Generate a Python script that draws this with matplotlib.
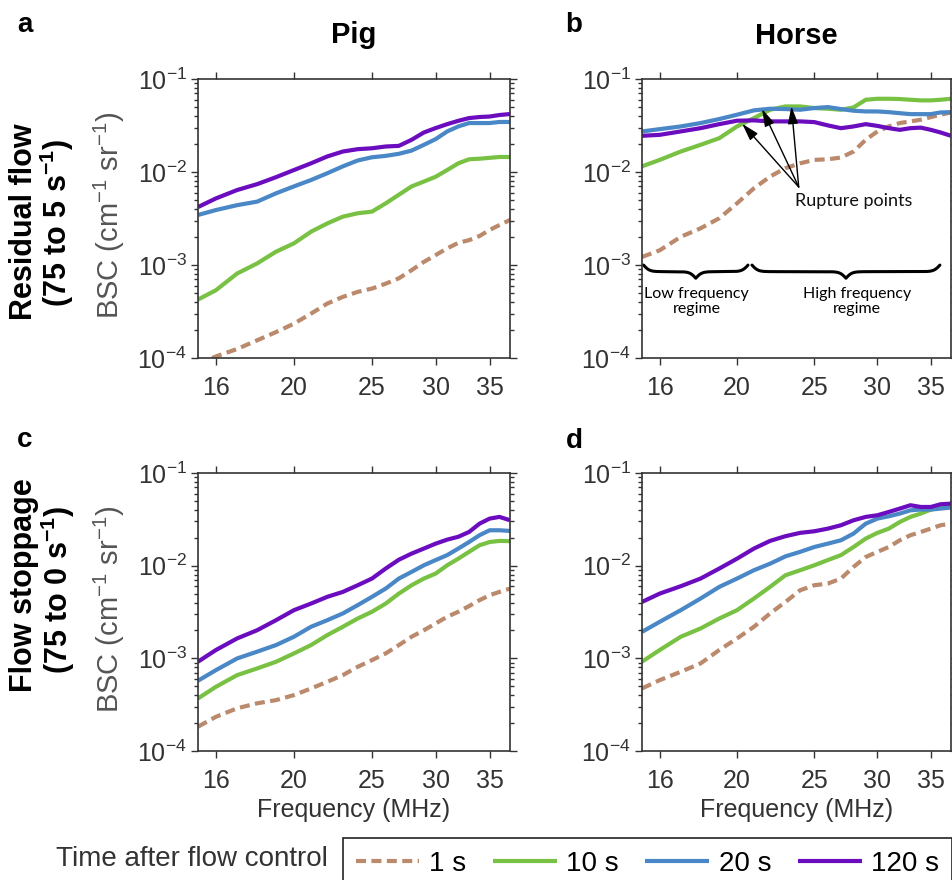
import numpy as np
import matplotlib
matplotlib.use("Agg")
import matplotlib.pyplot as plt
from matplotlib.ticker import NullLocator, NullFormatter, LogLocator

plt.rcParams['font.family'] = ['Liberation Sans', 'DejaVu Sans']
plt.rcParams['mathtext.fontset'] = 'custom'
plt.rcParams['mathtext.rm'] = 'Liberation Sans'
plt.rcParams['mathtext.it'] = 'Liberation Sans:italic'
plt.rcParams['mathtext.bf'] = 'Liberation Sans:bold'

# frequency grid (MHz)
freq = [15.2, 16, 17, 18, 19, 20, 21, 22, 23, 24, 25, 26, 27, 28, 29, 30,
        31, 32, 33, 34, 35, 36, 37.1]
labels = ['1 s', '10 s', '20 s', '120 s']

# a: pig, residual flow
pig_res_1s = [8.6e-5, 1.04e-4, 1.25e-4, 1.55e-4, 1.9e-4, 2.34e-4, 3.0e-4, 3.85e-4, 4.54e-4,
              5.14e-4, 5.58e-4, 6.3e-4, 7.2e-4, 8.8e-4, 1.08e-3, 1.28e-3, 1.51e-3, 1.73e-3,
              1.85e-3, 2.05e-3, 2.38e-3, 2.69e-3, 3.05e-3]
pig_res_10s = [4.25e-4, 5.36e-4, 8.1e-4, 1.04e-3, 1.39e-3, 1.71e-3, 2.28e-3, 2.8e-3, 3.31e-3,
               3.6e-3, 3.75e-3, 4.6e-3, 5.7e-3, 7.0e-3, 7.9e-3, 8.9e-3, 1.05e-2, 1.24e-2,
               1.37e-2, 1.39e-2, 1.42e-2, 1.45e-2, 1.45e-2]
pig_res_20s = [3.45e-3, 3.9e-3, 4.4e-3, 4.8e-3, 5.9e-3, 7.0e-3, 8.2e-3, 9.7e-3, 1.15e-2,
               1.33e-2, 1.44e-2, 1.49e-2, 1.57e-2, 1.70e-2, 1.96e-2, 2.26e-2, 2.73e-2, 3.09e-2,
               3.36e-2, 3.36e-2, 3.36e-2, 3.45e-2, 3.45e-2]
pig_res_120s = [4.2e-3, 5.2e-3, 6.4e-3, 7.4e-3, 8.8e-3, 1.05e-2, 1.24e-2, 1.47e-2, 1.66e-2,
                1.76e-2, 1.8e-2, 1.88e-2, 1.91e-2, 2.22e-2, 2.66e-2, 2.97e-2, 3.27e-2, 3.55e-2,
                3.8e-2, 3.9e-2, 3.95e-2, 4.1e-2, 4.2e-2]

# b: horse, residual flow
horse_res_1s = [1.22e-3, 1.44e-3, 2.01e-3, 2.48e-3, 3.18e-3, 4.61e-3, 6.68e-3, 8.93e-3, 1.10e-2,
                1.24e-2, 1.35e-2, 1.37e-2, 1.43e-2, 1.66e-2, 2.22e-2, 2.73e-2, 3.09e-2, 3.36e-2,
                3.50e-2, 3.65e-2, 3.89e-2, 4.13e-2, 4.37e-2]
horse_res_10s = [1.15e-2, 1.35e-2, 1.66e-2, 1.96e-2, 2.31e-2, 3.09e-2, 3.80e-2, 4.67e-2, 5.07e-2,
                 5.07e-2, 4.87e-2, 4.79e-2, 4.67e-2, 4.95e-2, 5.98e-2, 6.13e-2, 6.13e-2, 6.09e-2,
                 5.98e-2, 5.89e-2, 5.89e-2, 5.98e-2, 6.13e-2]
horse_res_20s = [2.73e-2, 2.89e-2, 3.09e-2, 3.36e-2, 3.71e-2, 4.13e-2, 4.60e-2, 4.79e-2, 4.75e-2,
                 4.67e-2, 4.87e-2, 4.99e-2, 4.75e-2, 4.56e-2, 4.48e-2, 4.48e-2, 4.40e-2, 4.29e-2,
                 4.19e-2, 4.19e-2, 4.19e-2, 4.37e-2, 4.40e-2]
horse_res_120s = [2.45e-2, 2.51e-2, 2.73e-2, 2.96e-2, 3.27e-2, 3.56e-2, 3.59e-2, 3.50e-2, 3.50e-2,
                  3.50e-2, 3.44e-2, 3.17e-2, 2.96e-2, 3.09e-2, 3.27e-2, 3.13e-2, 2.96e-2, 2.84e-2,
                  2.96e-2, 3.0e-2, 2.84e-2, 2.66e-2, 2.45e-2]

# c: pig, flow stoppage
pig_stop_1s = [1.83e-4, 2.34e-4, 2.89e-4, 3.27e-4, 3.54e-4, 4.01e-4, 4.73e-4, 5.58e-4, 6.59e-4,
               8.1e-4, 9.57e-4, 1.13e-3, 1.39e-3, 1.71e-3, 2.01e-3, 2.38e-3, 2.81e-3, 3.18e-3,
               3.66e-3, 4.24e-3, 4.80e-3, 5.21e-3, 5.66e-3]
pig_stop_10s = [3.69e-4, 4.93e-4, 6.59e-4, 7.78e-4, 9.18e-4, 1.13e-3, 1.39e-3, 1.78e-3, 2.19e-3,
                2.69e-3, 3.18e-3, 3.90e-3, 5.0e-3, 6.15e-3, 7.26e-3, 8.22e-3, 1.01e-2, 1.19e-2,
                1.41e-2, 1.66e-2, 1.80e-2, 1.85e-2, 1.84e-2]
pig_stop_20s = [5.73e-4, 7.46e-4, 9.97e-4, 1.18e-3, 1.39e-3, 1.71e-3, 2.19e-3, 2.58e-3, 3.05e-3,
                3.75e-3, 4.61e-3, 5.66e-3, 7.26e-3, 8.57e-3, 1.01e-2, 1.15e-2, 1.30e-2, 1.53e-2,
                1.80e-2, 2.13e-2, 2.41e-2, 2.41e-2, 2.37e-2]
pig_stop_120s = [9.2e-4, 1.23e-3, 1.64e-3, 2.01e-3, 2.58e-3, 3.31e-3, 3.90e-3, 4.61e-3, 5.21e-3,
                 6.15e-3, 7.26e-3, 9.31e-3, 1.16e-2, 1.35e-2, 1.53e-2, 1.73e-2, 1.91e-2, 2.05e-2,
                 2.31e-2, 2.84e-2, 3.22e-2, 3.36e-2, 3.09e-2]

# d: horse, flow stoppage
horse_stop_1s = [4.73e-4, 5.82e-4, 7.16e-4, 8.81e-4, 1.23e-3, 1.64e-3, 2.19e-3, 3.05e-3, 4.06e-3,
                 5.43e-3, 6.15e-3, 6.41e-3, 7.26e-3, 9.7e-3, 1.24e-2, 1.41e-2, 1.59e-2, 1.88e-2,
                 2.13e-2, 2.31e-2, 2.51e-2, 2.73e-2, 2.84e-2]
horse_stop_10s = [9.2e-4, 1.23e-3, 1.71e-3, 2.10e-3, 2.69e-3, 3.31e-3, 4.42e-3, 5.90e-3, 7.88e-3,
                  8.93e-3, 1.01e-2, 1.15e-2, 1.30e-2, 1.59e-2, 1.96e-2, 2.26e-2, 2.51e-2, 2.96e-2,
                  3.36e-2, 3.65e-2, 4.03e-2, 4.24e-2, 4.37e-2]
horse_stop_20s = [1.93e-3, 2.48e-3, 3.31e-3, 4.42e-3, 5.90e-3, 7.26e-3, 8.93e-3, 1.05e-2, 1.26e-2,
                  1.41e-2, 1.59e-2, 1.73e-2, 1.88e-2, 2.22e-2, 2.84e-2, 3.22e-2, 3.41e-2, 3.65e-2,
                  3.96e-2, 4.03e-2, 4.03e-2, 4.13e-2, 4.24e-2]
horse_stop_120s = [4.06e-3, 5.0e-3, 6.0e-3, 7.26e-3, 9.31e-3, 1.19e-2, 1.53e-2, 1.85e-2, 2.08e-2,
                   2.26e-2, 2.35e-2, 2.51e-2, 2.73e-2, 3.09e-2, 3.36e-2, 3.50e-2, 3.80e-2, 4.13e-2,
                   4.49e-2, 4.30e-2, 4.30e-2, 4.60e-2, 4.67e-2]

# rupture points (freq, BSC) in panel b
rupture_f = [20.3, 21.5, 23.4]
rupture_bsc = [3.3e-2, 4.75e-2, 5.07e-2]

colors = ['#bb8a6c', '#78c143', '#4a87c6', '#6c0cbf']
xt = [16, 20, 25, 30, 35]

W, H = 952, 880
fig = plt.figure(figsize=(W / 100, H / 100), dpi=100)


def add_ax(l, t, w, h):
    return fig.add_axes([l / W, 1 - (t + h) / H, w / W, h / H])


ax_a = add_ax(198, 79, 312, 279)
ax_b = add_ax(642, 79, 309, 279)
ax_c = add_ax(198, 473, 312, 278)
ax_d = add_ax(642, 473, 309, 278)

panels = [
    (ax_a, [pig_res_1s, pig_res_10s, pig_res_20s, pig_res_120s]),
    (ax_b, [horse_res_1s, horse_res_10s, horse_res_20s, horse_res_120s]),
    (ax_c, [pig_stop_1s, pig_stop_10s, pig_stop_20s, pig_stop_120s]),
    (ax_d, [horse_stop_1s, horse_stop_10s, horse_stop_20s, horse_stop_120s]),
]

handles = []
for ax, series in panels:
    hs = []
    for i, (s, c) in enumerate(zip(series, colors)):
        if i == 0:
            ln, = ax.plot(freq, s, color=c, lw=3.0, dashes=(2.4, 1.3), dash_capstyle='butt')
        else:
            ln, = ax.plot(freq, s, color=c, lw=3.0, solid_capstyle='butt')
        hs.append(ln)
    handles = hs
    ax.set_xscale('log')
    ax.set_yscale('log')
    ax.set_xlim(15.2, 37.1)
    ax.set_ylim(1e-4, 1e-1)
    ax.set_xticks(xt, labels=[str(v) for v in xt])
    ax.xaxis.set_minor_locator(NullLocator())
    ax.set_yticks([1e-4, 1e-3, 1e-2, 1e-1])
    ax.yaxis.set_minor_locator(LogLocator(base=10, subs=np.arange(2, 10)))
    ax.yaxis.set_minor_formatter(NullFormatter())
    ax.tick_params(which='both', direction='out', top=True, right=True,
                   colors='#333333', labelsize=18, width=1.0)
    ax.tick_params(which='major', length=5)
    ax.tick_params(which='minor', length=3)
    ax.tick_params(axis='x', pad=8)
    ax.tick_params(axis='y', pad=3)
    for sp in ax.spines.values():
        sp.set_color('#333333')
        sp.set_linewidth(1.2)

for ax in (ax_a, ax_c):
    ax.set_ylabel('BSC (cm$^{-1}$ sr$^{-1}$)', fontsize=21, color='#555555')
    ax.yaxis.set_label_coords(-0.228, 0.51)
for ax in (ax_c, ax_d):
    ax.set_xlabel('Frequency (MHz)', fontsize=18, color='#333333')
    ax.xaxis.set_label_coords(0.5, -0.17)

# rupture point arrows
for f, b in zip(rupture_f, rupture_bsc):
    ax_b.annotate('', xy=(f, b), xytext=(23.9, 6.9e-3),
                  arrowprops=dict(arrowstyle='-|>,head_length=0.75,head_width=0.22',
                                  color='black', lw=1.0, shrinkA=0, shrinkB=0,
                                  mutation_scale=14))
ax_b.text(28.0, 4.9e-3, 'Rupture points', ha='center', va='center',
          fontsize=13, family='Lato', color='#111111')


def brace(ax, x0, x1, ytop, h, span_px):
    n = 401
    t = np.linspace(0, 1, n)
    half = t[:n // 2 + 1]
    beta = span_px / 3.0
    yh = 1 / (1 + np.exp(-beta * (half - 0))) + 1 / (1 + np.exp(-beta * (half - 0.5)))
    yy = np.concatenate((yh, yh[-2::-1]))
    xx = x0 + (x1 - x0) * t
    ax.plot(xx, ytop - h * (yy - 0.5), color='black', lw=2.2,
            transform=ax.transAxes, clip_on=False, solid_capstyle='round')


brace(ax_b, 0.005, 0.343, 0.333, 0.047, 105)
brace(ax_b, 0.356, 0.964, 0.333, 0.047, 188)
ax_b.text(17.8, 4.05e-4, 'Low frequency\nregime', ha='center', va='center',
          fontsize=11.5, family='Lato', linespacing=1.05)
ax_b.text(28.3, 4.05e-4, 'High frequency\nregime', ha='center', va='center',
          fontsize=11.5, family='Lato', linespacing=1.05)

# titles and panel letters
fig.text(354 / W, 1 - 43 / H, 'Pig', ha='center', va='baseline', fontsize=21, fontweight='bold')
fig.text(796 / W, 1 - 44 / H, 'Horse', ha='center', va='baseline', fontsize=21, fontweight='bold')
for letter, x, y in [('a', 25, 32), ('b', 574, 32), ('c', 25, 447), ('d', 574, 448)]:
    fig.text(x / W, 1 - y / H, letter, ha='center', va='baseline', fontsize=20, fontweight='bold')

# row labels
row_kw = dict(rotation=90, ha='center', va='center', fontsize=22, fontweight='bold')
fig.text(24 / W, 1 - 222 / H, 'Residual flow', **row_kw)
fig.text(57 / W, 1 - 223 / H, r'(75 to 5 s$^{\mathbf{-1}}$)', **row_kw)
fig.text(24 / W, 1 - 585 / H, 'Flow stoppage', **row_kw)
fig.text(58 / W, 1 - 590 / H, r'(75 to 0 s$^{\mathbf{-1}}$)', **row_kw)

# legend
fig.text(328 / W, 1 - 859 / H, 'Time after flow control', ha='right', va='center',
         fontsize=20, color='#333333')
leg = fig.legend(handles, labels, loc='upper left', bbox_to_anchor=(343 / W, 1 - 838 / H),
                 ncol=4, fontsize=20, frameon=True, fancybox=False, edgecolor='#222222',
                 framealpha=1, borderaxespad=0, handlelength=2.3, handletextpad=0.35,
                 columnspacing=0.95, borderpad=0.45)
leg.get_frame().set_linewidth(1.2)

fig.savefig('out.png', dpi=100)
